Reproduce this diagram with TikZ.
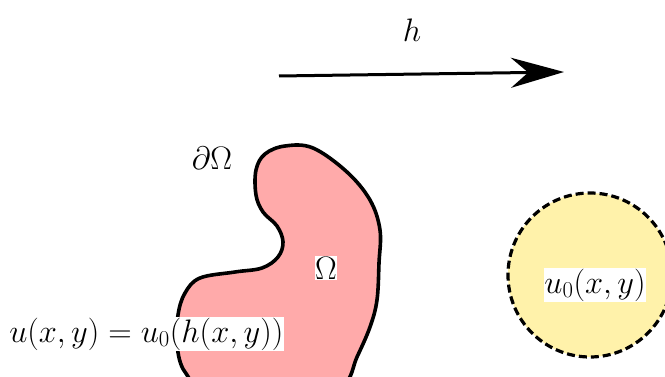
\RequirePackage{fix-cm}
\documentclass[tikz,border=0pt]{standalone}
\usetikzlibrary{arrows.meta}
\definecolor{blobpink}{HTML}{FFAAAA}
\definecolor{discyellow}{HTML}{FFF2AA}
\begin{document}
\begin{tikzpicture}[x=1pt,y=-1pt,
  lbl/.style={inner sep=0.5pt, font=\fontsize{32.5}{39}\selectfont},
  wlbl/.style={lbl, fill=white},
  boundary/.style={line width=3.6pt, draw=black, line join=round}]
\useasboundingbox (0,0) rectangle (665,377);
\clip (0,0) rectangle (665,377);
% disc
\fill[discyellow] (590,275) circle (82);
\draw[line width=3.2pt, dash pattern=on 8pt off 4pt] (590,275) circle (82);
% blob
\filldraw[boundary, fill=blobpink] plot[smooth cycle, tension=0.6] coordinates {
 (285,146) (313,148) (347,172) (370,200) (380,230) (379,263) (377,300)
 (370,327) (357,357) (343,385) (300,395) (210,390) (185,372) (177,345)
 (178,315) (185,293) (200,278) (235,272) (262,268) (278,257) (283,242)
 (277,226) (263,212) (256,195) (256,170) (265,154)};
% arrow
\coordinate (as) at (279,76);
\coordinate (ae) at (564,72);
\draw[line width=3pt, -{Stealth[length=53pt,width=30pt]}] (as) -- (ae);
% labels
\node[lbl] (h) at (412,30) {$h$};
\node[lbl] (dO) at (212,158) {$\partial\Omega$};
\node[wlbl] (O) at (326,268) {$\Omega$};
\node[wlbl] (u0) at (595,285) {$u_0(x,y)$};
\node[wlbl, anchor=east] (eq) at (284,334) {$u(x,y) = u_0(h(x,y))$};
\end{tikzpicture}
\end{document}
